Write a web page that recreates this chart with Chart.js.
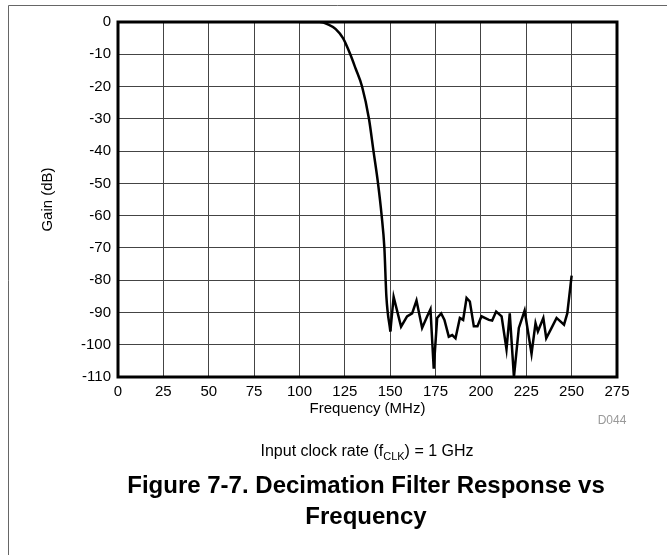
<!DOCTYPE html>
<html>
<head>
<meta charset="utf-8">
<script src="https://cdn.jsdelivr.net/npm/chart.js@4.4.1/dist/chart.umd.min.js"></script>
<style>
  html, body { margin: 0; padding: 0; background: #fff; }
  #wrap { width: 667px; height: 555px; position: relative; }
</style>
</head>
<body>
<div id="wrap"><canvas id="filterChart" width="667" height="555"></canvas></div>
<script>
// decimation filter response
// passband / rolloff part (smooth curve)
const rollFreqs = [100, 111, 116, 120, 124, 128, 131, 134.5, 138.3, 140.8, 143.3, 145.3, 146.8, 147.9, 150.1];
const rollGains = [0, 0, -0.8, -2.2, -5, -10, -14.5, -20, -30, -40, -50, -60, -70, -85, -95.9];
// stopband part (jagged)
const stopFreqs = [150.1, 151.9, 156.0, 159.3, 162.1, 164.5, 167.6, 170.4, 172.2, 174.0, 175.9, 178.1, 179.9, 182.3, 184.2, 186.0, 188.4, 190.2, 192.1, 193.9, 196.1, 198.1, 200.3,
  204.4, 206.2, 208.4, 211.4, 214.1, 215.9, 218.2, 220.9, 224.1, 227.9, 230.1, 231.4, 234.4, 236.0, 239.3, 241.7, 245.8, 247.6, 250.0];
const stopGains = [-95.9, -85.2, -94.4, -91.2, -90.3, -86.3, -94.8, -91.2, -89, -107.4, -91.7, -90.3, -92.3, -97.5, -97, -98, -91.7, -92.3, -85.5, -86.6, -94.3, -94.3, -91.2,
  -92.3, -92.5, -89.7, -91.2, -101.4, -90.3, -110, -94.8, -89.4, -102.8, -93.3, -95.9, -91.7, -98, -94.4, -91.7, -93.8, -90.3, -78.6];

const xTicks = [0, 25, 50, 75, 100, 125, 150, 175, 200, 225, 250, 275];
const yTicks = [0, -10, -20, -30, -40, -50, -60, -70, -80, -90, -100, -110];

const FONT = '"Liberation Sans", Arial, sans-serif';

const toPts = (xs, ys) => xs.map((f, i) => ({ x: f, y: ys[i] }));

const decor = {
  id: 'decor',
  afterDatasetsDraw(chart) {
    const c = chart.ctx, a = chart.chartArea;
    c.save();
    c.strokeStyle = '#000';
    c.lineWidth = 3;
    c.strokeRect(a.left, a.top, a.right - a.left, a.bottom - a.top);
    c.restore();
  },
  afterDraw(chart) {
    const c = chart.ctx;
    c.save();
    // figure frame
    c.strokeStyle = '#666';
    c.lineWidth = 1;
    c.beginPath();
    c.moveTo(8.5, 555);
    c.lineTo(8.5, 5.5);
    c.lineTo(667, 5.5);
    c.stroke();

    // D044 tag
    c.fillStyle = '#999';
    c.font = '12px ' + FONT;
    c.textAlign = 'center';
    c.textBaseline = 'middle';
    c.fillText('D044', 612, 421);

    // clock note with subscript
    c.fillStyle = '#000';
    const big = '16px ' + FONT, small = '11px ' + FONT;
    const p1 = 'Input clock rate (f', sub = 'CLK', p2 = ') = 1 GHz';
    c.font = big; const w1 = c.measureText(p1).width, w3 = c.measureText(p2).width;
    c.font = small; const w2 = c.measureText(sub).width;
    let x = 367 - (w1 + w2 + w3) / 2;
    c.textAlign = 'left';
    c.font = big; c.fillText(p1, x, 452); x += w1;
    c.font = small; c.fillText(sub, x, 457); x += w2;
    c.font = big; c.fillText(p2, x, 452);

    // figure caption
    c.textAlign = 'center';
    c.font = 'bold 24px ' + FONT;
    c.fillText('Figure 7-7. Decimation Filter Response vs', 366, 486);
    c.fillText('Frequency', 366, 517);
    c.restore();
  }
};

const ctx = document.getElementById('filterChart').getContext('2d');
new Chart(ctx, {
  type: 'line',
  data: {
    datasets: [{
      data: toPts(rollFreqs, rollGains),
      borderColor: '#000',
      borderWidth: 2.5,
      pointRadius: 0,
      cubicInterpolationMode: 'monotone',
      fill: false
    }, {
      data: toPts(stopFreqs, stopGains),
      borderColor: '#000',
      borderWidth: 2.5,
      pointRadius: 0,
      tension: 0,
      fill: false
    }]
  },
  options: {
    responsive: false,
    animation: false,
    layout: { padding: { left: 39, top: 22, right: 50, bottom: 137 } },
    plugins: { legend: { display: false }, tooltip: { enabled: false } },
    scales: {
      x: {
        type: 'linear',
        min: 0, max: 275,
        afterBuildTicks: s => { s.ticks = xTicks.map(v => ({ value: v })); },
        afterFit: s => { s.height = 41; },
        grid: { color: '#444', lineWidth: 1, drawTicks: false },
        border: { display: false },
        ticks: { color: '#000', padding: 6, maxRotation: 0, autoSkip: false, font: { family: FONT, size: 15 } },
        title: { display: true, text: 'Frequency (MHz)', color: '#000', padding: 0, font: { family: FONT, size: 15 } }
      },
      y: {
        min: -110, max: 0,
        afterBuildTicks: s => { s.ticks = yTicks.map(v => ({ value: v })); },
        afterFit: s => { s.width = 79; },
        grid: { color: '#444', lineWidth: 1, drawTicks: false },
        border: { display: false },
        ticks: { color: '#000', padding: 7, autoSkip: false, font: { family: FONT, size: 15 } },
        title: { display: true, text: 'Gain (dB)', color: '#000', padding: 0, font: { family: FONT, size: 15 } }
      }
    }
  },
  plugins: [decor]
});
</script>
</body>
</html>
